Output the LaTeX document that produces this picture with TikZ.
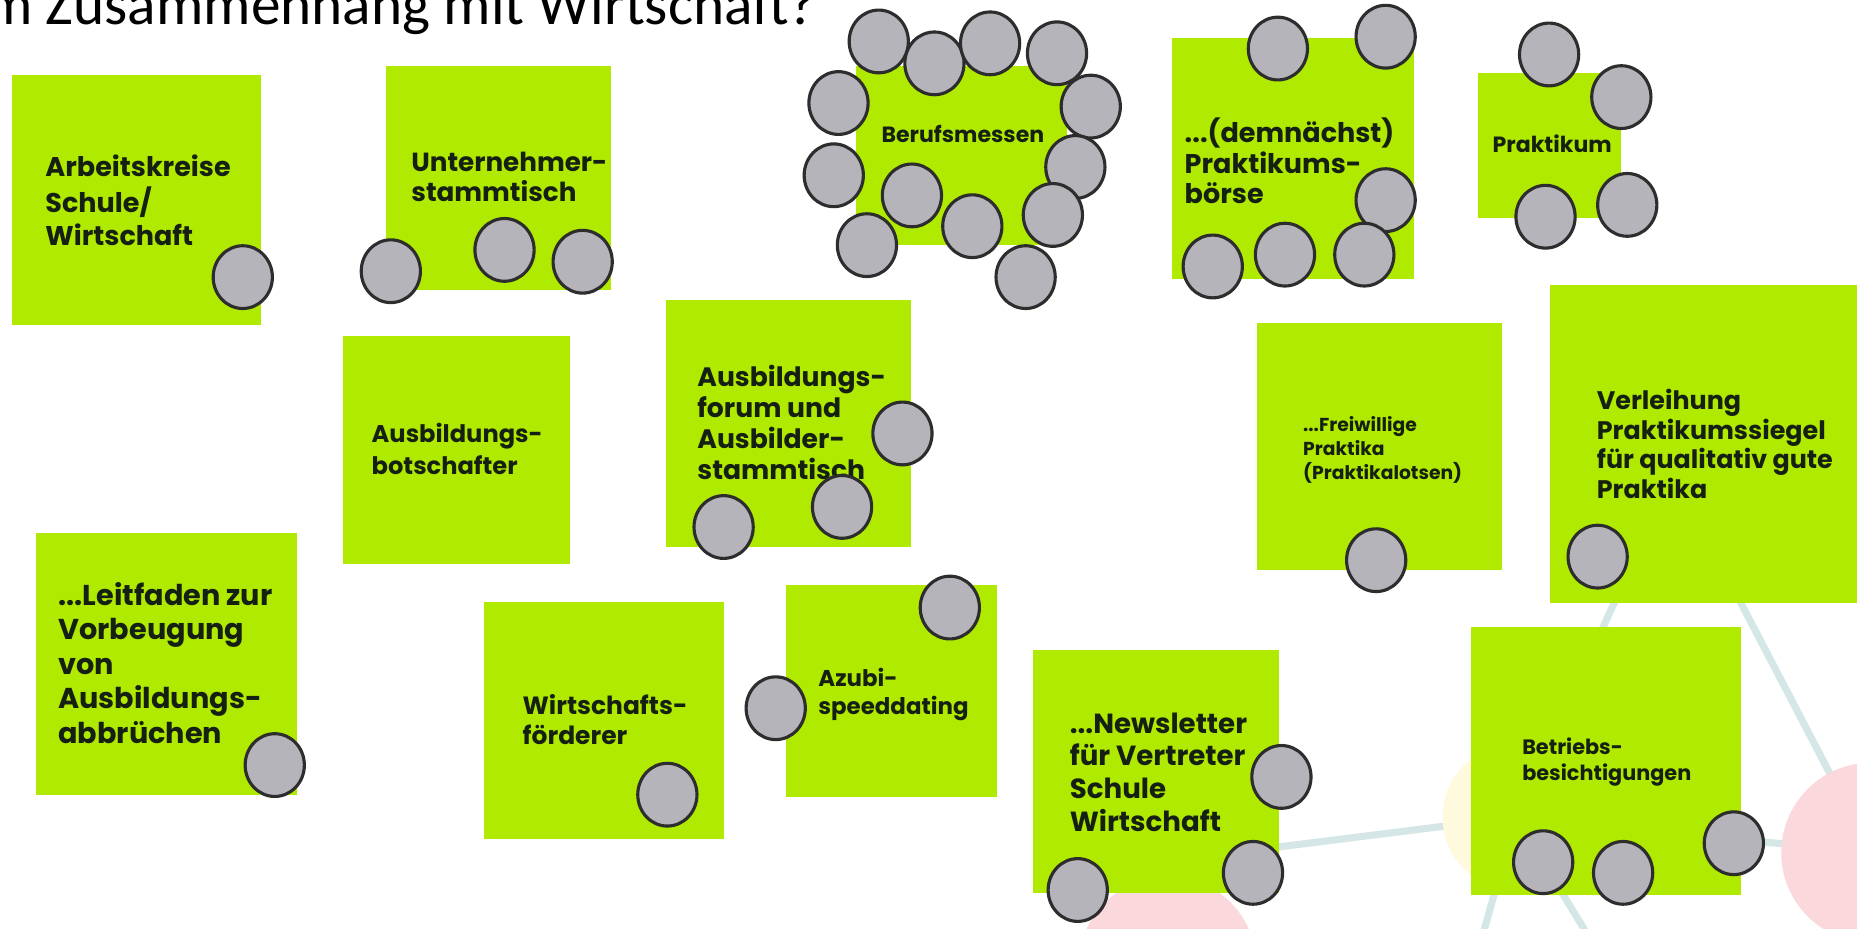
\documentclass[tikz,border=0pt]{standalone}
\usepackage{fontspec}
\newfontfamily\popfam{Poppins}
\newfontfamily\titlefam{Carlito}
\usetikzlibrary{shapes.geometric}
\definecolor{boxgreen}{RGB}{175,234,0}
\definecolor{dotgray}{RGB}{180,180,186}
\definecolor{dotline}{RGB}{45,45,45}
\definecolor{txt}{RGB}{22,32,18}
\definecolor{netline}{RGB}{212,230,230}
\definecolor{pinkbg}{RGB}{250,216,220}
\definecolor{yellowbg}{RGB}{255,249,222}
\newcommand\tsz[2]{\fontsize{#1pt}{#2pt}\selectfont}
\newcommand\ml[1]{\begin{tabular}[t]{@{}l@{}}#1\end{tabular}}
\tikzset{
  note/.style={fill=boxgreen},
  dot/.style={ellipse, draw=dotline, fill=dotgray, line width=1.5pt,
    minimum width=1.0cm, minimum height=1.06cm, inner sep=0pt},
  lbl/.style={anchor=base west, inner sep=0pt, text=txt, font=\popfam\bfseries},
  net/.style={draw=netline, line width=3.4pt},
}
\begin{document}
\begin{tikzpicture}[x=0.02cm, y=-0.02cm]
\useasboundingbox (0,0) rectangle (1568,784);
\clip (0,0) rectangle (1568,784);
\fill[white] (0,0) rectangle (1568,784);
% background network
\coordinate (yc) at (1280,690);
\coordinate (pc) at (1580,720);
\coordinate (hid1) at (1413,400);
\coordinate (hid2) at (985,727);
\coordinate (bot1) at (1249,800);
\coordinate (bot2) at (1347,800);
\draw[net] (hid2) -- (yc);
\draw[net] (yc) -- (hid1);
\draw[net] (pc) -- (hid1);
\draw[net] (yc) -- (bot1);
\draw[net] (yc) -- (bot2);
\draw[net] (yc) -- (pc);
\fill[pinkbg] (pc) circle (1.52cm);
\fill[pinkbg] (986,815) circle (1.5cm);
\fill[yellowbg] (yc) circle (1.24cm);
% title
\node[anchor=base west, inner sep=0pt, font=\titlefam\fontsize{28.5pt}{34pt}\selectfont] (title) at (-13,21) {m Zusammenhang mit Wirtschaft?};
% notes
\path[note] (10,63) rectangle (220,274);
\path[note] (326,56) rectangle (516,245);
\path[note] (723,56) rectangle (901,207);
\path[note] (990,32) rectangle (1194,236);
\path[note] (1248,62) rectangle (1369,184);
\path[note] (290,284) rectangle (481,476);
\path[note] (562,253) rectangle (769,462);
\path[note] (1061,273) rectangle (1268,481);
\path[note] (1309,241) rectangle (1568,509);
\path[note] (30,450) rectangle (251,671);
\path[note] (409,508) rectangle (611,708);
\path[note] (664,494) rectangle (842,673);
\path[note] (872,549) rectangle (1080,754);
\path[note] (1242,529) rectangle (1470,756);
% texts
\node[lbl] (t1) at (38,149) {\tsz{13}{15.9}\ml{Arbeitskreise\\Schule/\\Wirtschaft}};
\node[lbl] (t2) at (347,145) {\tsz{12.6}{14.2}\ml{Unternehmer-\\stammtisch}};
\node[lbl] (t3) at (744,120) {\tsz{10.6}{13}\ml{Berufsmessen}};
\node[lbl] (t4) at (1000,120.5) {\tsz{13}{14.4}\ml{...(demnächst)\\Praktikums-\\börse}};
\node[lbl] (t5) at (1260,129) {\tsz{10.6}{13}\ml{Praktikum}};
\node[lbl] (t6) at (313.5,374) {\tsz{11.6}{15.4}\ml{Ausbildungs-\\botschafter}};
\node[lbl] (t7) at (588.5,326) {\tsz{12.8}{15}\ml{Ausbildungs-\\forum und\\Ausbilder-\\stammtisch}};
\node[lbl] (t8) at (1100,364.6) {\tsz{9}{11.2}\ml{...Freiwillige\\Praktika\\(Praktikalotsen)}};
\node[lbl] (t9) at (1348,346) {\tsz{12.2}{14.2}\ml{Verleihung\\Praktikumssiegel\\für qualitativ gute\\Praktika}};
\node[lbl] (t10) at (49,511) {\tsz{13.8}{16.6}\ml{...Leitfaden zur\\Vorbeugung\\von\\Ausbildungs-\\abbrüchen}};
\node[lbl] (t11) at (441,603.3) {\tsz{12}{14.4}\ml{Wirtschafts-\\förderer}};
\node[lbl] (t12) at (690.7,579.6) {\tsz{11}{13.7}\ml{Azubi-\\speeddating}};
\node[lbl] (t13) at (903,619) {\tsz{13.3}{15.8}\ml{...Newsletter\\für Vertreter\\Schule\\Wirtschaft}};
\node[lbl] (t14) at (1285,636.7) {\tsz{10}{12.8}\ml{Betriebs-\\besichtigungen}};
% dots
\node[dot] (a1) at (205,234) {};
\node[dot] (b1) at (330,229) {};
\node[dot] (b2) at (426,211) {};
\node[dot] (b3) at (492,221) {};
\node[dot] (c1) at (742,35) {};
\node[dot] (c2) at (789,53.5) {};
\node[dot] (c3) at (836,36.6) {};
\node[dot] (c4) at (892.5,45) {};
\node[dot] (c5) at (708,87) {};
\node[dot] (c6) at (921,90) {};
\node[dot] (c7) at (704,148) {};
\node[dot] (c8) at (770,165) {};
\node[dot] (c9) at (908,141) {};
\node[dot] (c10) at (889,181.5) {};
\node[dot] (c11) at (821,191) {};
\node[dot] (c12) at (732,207) {};
\node[dot] (c13) at (866,234) {};
\node[dot] (d1) at (1079,41) {};
\node[dot] (d2) at (1170,31) {};
\node[dot] (d3) at (1170,169) {};
\node[dot] (d4) at (1152,215) {};
\node[dot] (d5) at (1085,215) {};
\node[dot] (d6) at (1024,225) {};
\node[dot] (e1) at (1308,46) {};
\node[dot] (e2) at (1369,82) {};
\node[dot] (e3) at (1305,183) {};
\node[dot] (e4) at (1374,173) {};
\node[dot] (f1) at (762,366) {};
\node[dot] (f2) at (711,428) {};
\node[dot] (f3) at (611,445) {};
\node[dot] (g1) at (1162,473) {};
\node[dot] (h1) at (1349,470) {};
\node[dot] (i1) at (232,646) {};
\node[dot] (j1) at (563.5,671) {};
\node[dot] (k1) at (802,513) {};
\node[dot] (k2) at (655,598) {};
\node[dot] (l1) at (1082,656) {};
\node[dot] (l2) at (1058,737) {};
\node[dot] (l3) at (910,751.5) {};
\node[dot] (m1) at (1303,728) {};
\node[dot] (m2) at (1370.5,737) {};
\node[dot] (m3) at (1464,712) {};
\end{tikzpicture}
\end{document}
